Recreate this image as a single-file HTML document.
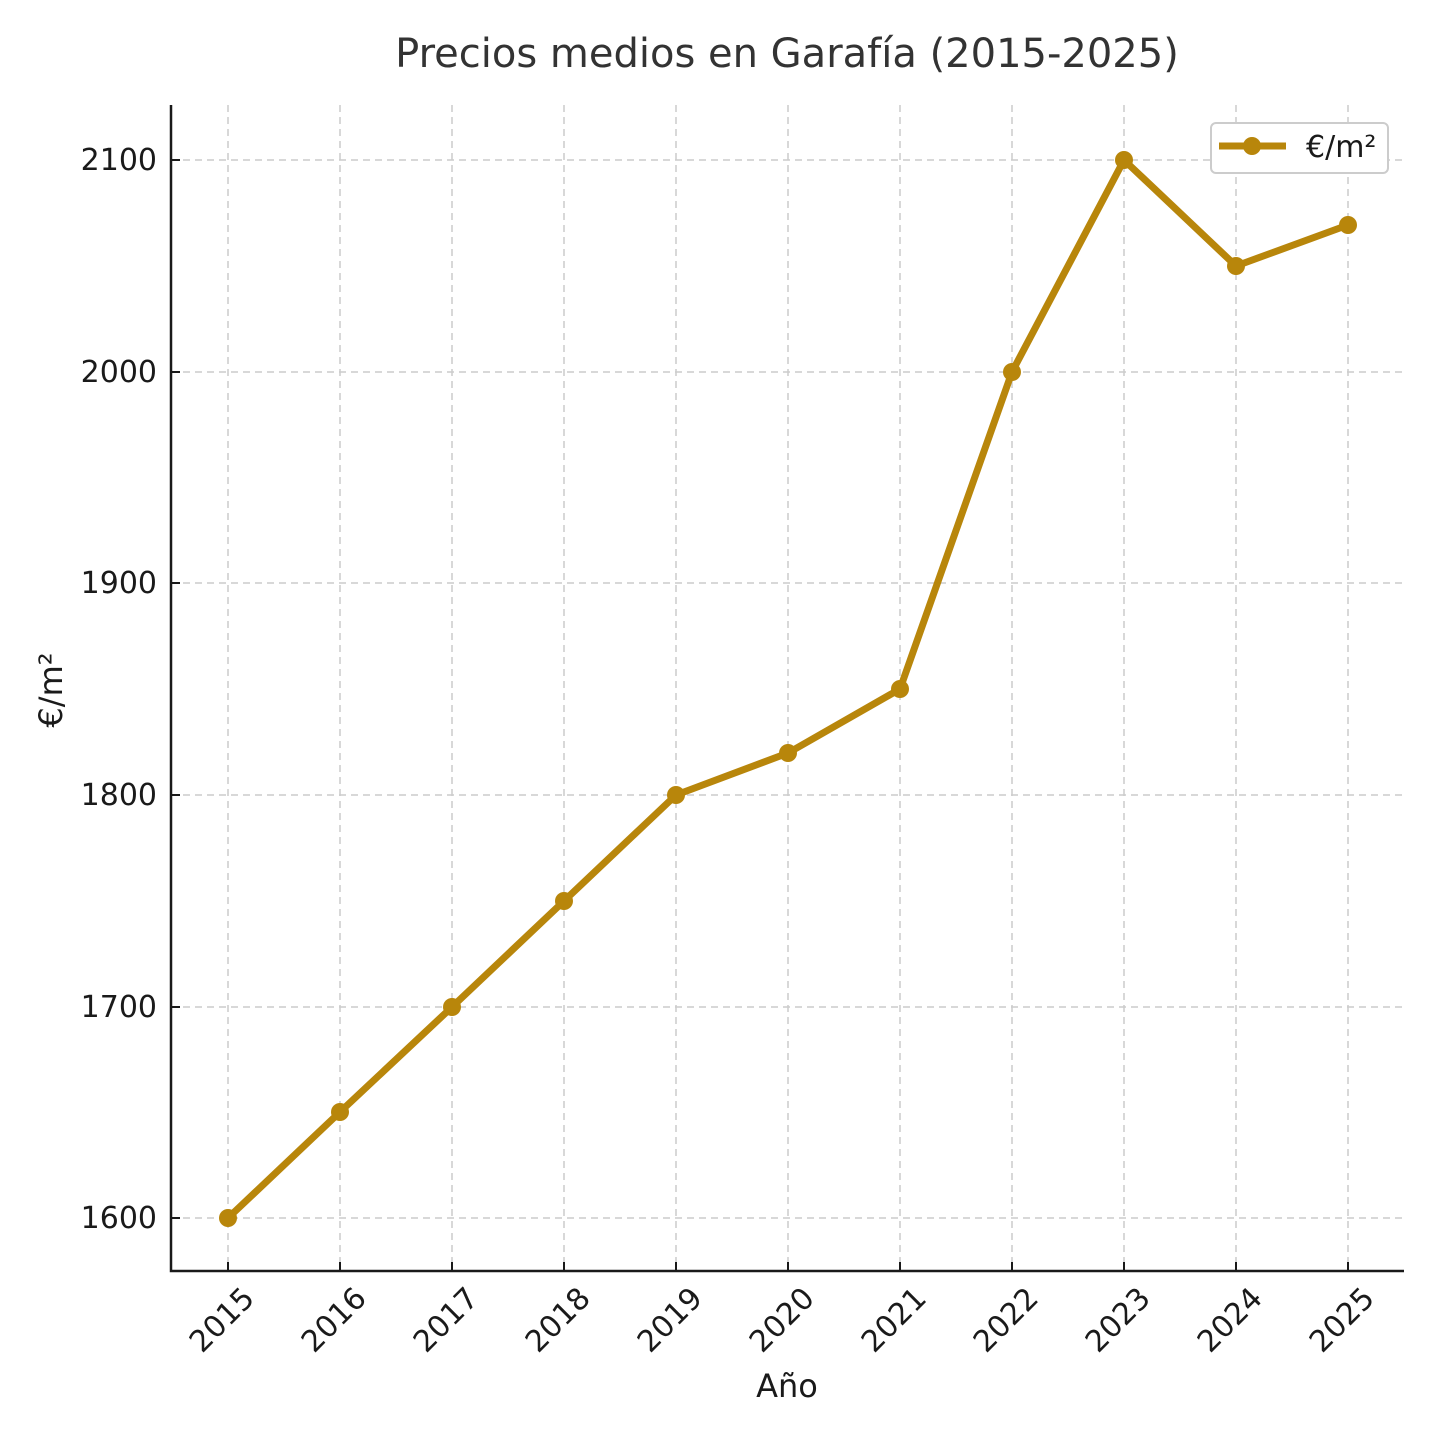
<!DOCTYPE html>
<html><head><meta charset="utf-8"><style>body{margin:0;background:#fff}</style></head><body>
<svg width="1440" height="1440" xmlns="http://www.w3.org/2000/svg" font-family="DejaVu Sans, Liberation Sans, sans-serif">
<rect width="1440" height="1440" fill="#fff"/>
<g stroke="#cccccc" stroke-width="1.5" stroke-dasharray="7,5">
<line x1="228" y1="105" x2="228" y2="1271"/><line x1="340" y1="105" x2="340" y2="1271"/><line x1="452" y1="105" x2="452" y2="1271"/><line x1="564" y1="105" x2="564" y2="1271"/><line x1="676" y1="105" x2="676" y2="1271"/><line x1="788" y1="105" x2="788" y2="1271"/><line x1="900" y1="105" x2="900" y2="1271"/><line x1="1012" y1="105" x2="1012" y2="1271"/><line x1="1124" y1="105" x2="1124" y2="1271"/><line x1="1236" y1="105" x2="1236" y2="1271"/><line x1="1348" y1="105" x2="1348" y2="1271"/>
<line x1="171" y1="160" x2="1404" y2="160"/><line x1="171" y1="372" x2="1404" y2="372"/><line x1="171" y1="583" x2="1404" y2="583"/><line x1="171" y1="795" x2="1404" y2="795"/><line x1="171" y1="1007" x2="1404" y2="1007"/><line x1="171" y1="1218" x2="1404" y2="1218"/>
</g>
<g stroke="#1a1a1a" stroke-width="2">
<line x1="228" y1="1271" x2="228" y2="1262"/><line x1="340" y1="1271" x2="340" y2="1262"/><line x1="452" y1="1271" x2="452" y2="1262"/><line x1="564" y1="1271" x2="564" y2="1262"/><line x1="676" y1="1271" x2="676" y2="1262"/><line x1="788" y1="1271" x2="788" y2="1262"/><line x1="900" y1="1271" x2="900" y2="1262"/><line x1="1012" y1="1271" x2="1012" y2="1262"/><line x1="1124" y1="1271" x2="1124" y2="1262"/><line x1="1236" y1="1271" x2="1236" y2="1262"/><line x1="1348" y1="1271" x2="1348" y2="1262"/>
<line x1="171" y1="160" x2="180" y2="160"/><line x1="171" y1="372" x2="180" y2="372"/><line x1="171" y1="583" x2="180" y2="583"/><line x1="171" y1="795" x2="180" y2="795"/><line x1="171" y1="1007" x2="180" y2="1007"/><line x1="171" y1="1218" x2="180" y2="1218"/>
</g>
<path d="M171 105V1271H1404" fill="none" stroke="#1a1a1a" stroke-width="2.5"/>
<polyline points="228,1218 340,1112 452,1007 564,901 676,795 788,753 900,689 1012,372 1124,160 1236,266 1348,225" fill="none" stroke="#b8860b" stroke-width="7" stroke-linejoin="round"/>
<g fill="#b8860b">
<circle cx="228" cy="1218" r="9"/><circle cx="340" cy="1112" r="9"/><circle cx="452" cy="1007" r="9"/><circle cx="564" cy="901" r="9"/><circle cx="676" cy="795" r="9"/><circle cx="788" cy="753" r="9"/><circle cx="900" cy="689" r="9"/><circle cx="1012" cy="372" r="9"/><circle cx="1124" cy="160" r="9"/><circle cx="1236" cy="266" r="9"/><circle cx="1348" cy="225" r="9"/>
</g>
<g font-size="30" fill="#1a1a1a" text-anchor="end">
<text x="157" y="170">2100</text><text x="157" y="382">2000</text><text x="157" y="593">1900</text><text x="157" y="805">1800</text><text x="157" y="1017">1700</text><text x="157" y="1228">1600</text>
</g>
<g font-size="30" fill="#1a1a1a" text-anchor="end">
<text transform="translate(256,1300) rotate(-45)">2015</text>
<text transform="translate(368,1300) rotate(-45)">2016</text>
<text transform="translate(480,1300) rotate(-45)">2017</text>
<text transform="translate(592,1300) rotate(-45)">2018</text>
<text transform="translate(704,1300) rotate(-45)">2019</text>
<text transform="translate(816,1300) rotate(-45)">2020</text>
<text transform="translate(928,1300) rotate(-45)">2021</text>
<text transform="translate(1040,1300) rotate(-45)">2022</text>
<text transform="translate(1152,1300) rotate(-45)">2023</text>
<text transform="translate(1264,1300) rotate(-45)">2024</text>
<text transform="translate(1376,1300) rotate(-45)">2025</text>
</g>
<text x="787" y="1397" font-size="32" fill="#1a1a1a" text-anchor="middle">Año</text>
<text transform="translate(62,690) rotate(-90)" font-size="32" fill="#1a1a1a" text-anchor="middle">€/m²</text>
<text x="787" y="67" font-size="40" fill="#333" text-anchor="middle">Precios medios en Garafía (2015-2025)</text>
<rect x="1211" y="123" width="177" height="50" rx="5" fill="#fff" stroke="#cccccc" stroke-width="2"/>
<line x1="1219" y1="146" x2="1286" y2="146" stroke="#b8860b" stroke-width="7"/>
<circle cx="1252" cy="146" r="9" fill="#b8860b"/>
<text x="1306" y="157" font-size="30" fill="#1a1a1a">€/m²</text>
</svg>
</body></html>
